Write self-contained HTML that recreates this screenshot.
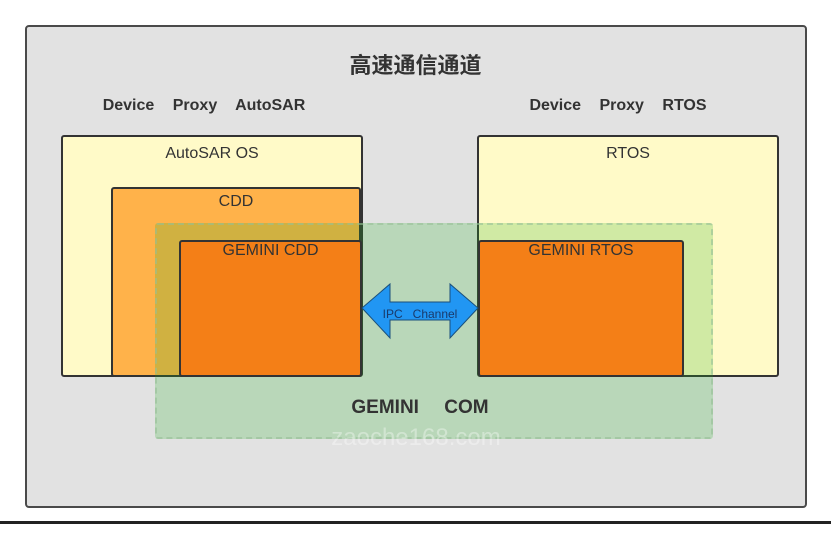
<!DOCTYPE html>
<html><head><meta charset="utf-8"><style>
body{margin:0;width:831px;height:533px;background:#fff;position:relative;overflow:hidden;font-family:"Liberation Sans","Noto Sans CJK SC",sans-serif;}
.a{position:absolute;box-sizing:border-box;}
.t{position:absolute;white-space:nowrap;color:#333;}
</style></head><body>
<div class="a" style="left:25px;top:25px;width:782px;height:483px;background:#e2e2e2;border:2px solid #4a4a4a;border-radius:4px"></div>
<div class="a" style="left:0;top:521px;width:831px;height:3px;background:#222"></div>
<div class="t" style="left:0;width:831px;text-align:center;top:48px;font-size:22px;font-weight:bold;">高速通信通道</div>
<div class="t" style="left:54px;width:300px;text-align:center;top:97px;font-size:16px;font-weight:bold;word-spacing:14px">Device Proxy AutoSAR</div>
<div class="t" style="left:468px;width:300px;text-align:center;top:97px;font-size:16px;font-weight:bold;word-spacing:14px">Device Proxy RTOS</div>

<div class="a" style="left:61px;top:135px;width:302px;height:242px;background:#fffac8;border:2px solid #333;border-radius:3px"></div>
<div class="t" style="left:61px;width:302px;text-align:center;top:145px;font-size:16px">AutoSAR OS</div>
<div class="a" style="left:111px;top:187px;width:250px;height:190px;background:#ffb24a;border:2px solid #333;border-radius:3px"></div>
<div class="t" style="left:111px;width:250px;text-align:center;top:193px;font-size:16px">CDD</div>
<div class="a" style="left:477px;top:135px;width:302px;height:242px;background:#fffac8;border:2px solid #333;border-radius:3px"></div>
<div class="t" style="left:477px;width:302px;text-align:center;top:145px;font-size:16px">RTOS</div>

<div class="a" style="left:155px;top:223px;width:558px;height:216px;background:rgba(31,174,31,0.21);border:2px dashed rgba(150,190,150,0.6);border-radius:3px"></div>

<div class="a" style="left:179px;top:240px;width:183px;height:137px;background:#f47f17;border:2px solid #333;border-radius:3px"></div>
<div class="t" style="left:179px;width:183px;text-align:center;top:242px;font-size:16px">GEMINI CDD</div>
<div class="a" style="left:478px;top:240px;width:206px;height:137px;background:#f47f17;border:2px solid #333;border-radius:3px"></div>
<div class="t" style="left:478px;width:206px;text-align:center;top:242px;font-size:16px">GEMINI RTOS</div>

<svg class="a" style="left:0;top:0" width="831" height="533">
<polygon points="362,308 390,284 390,302 450,302 450,284 478,308 450,338 450,320 390,320 390,338" fill="#2196f3" stroke="#1a4f7a" stroke-width="1"/>
<text x="420" y="318" font-size="12" fill="#1a3a6a" text-anchor="middle" font-family="Liberation Sans" xml:space="preserve">IPC   Channel</text>
</svg>
<div class="t" style="left:270px;width:300px;text-align:center;top:397px;font-size:19px;font-weight:bold;word-spacing:20px">GEMINI COM</div>
<div class="t" style="left:266px;width:300px;text-align:center;top:424px;font-size:24px;color:rgba(255,255,255,0.35)">zaoche168.com</div>
</body></html>
